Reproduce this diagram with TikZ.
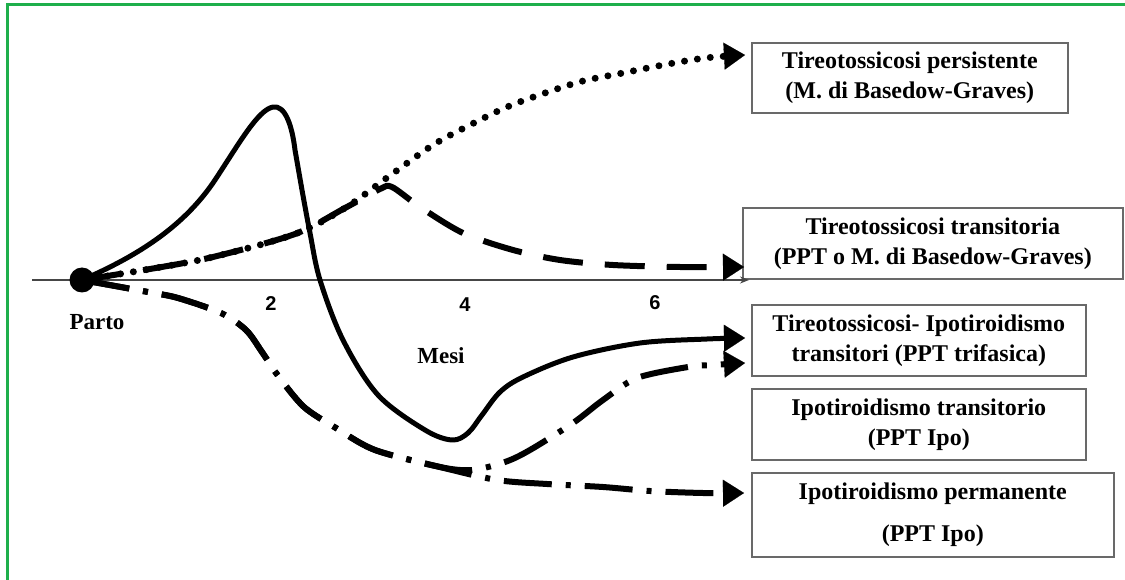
\documentclass[tikz,border=0pt]{standalone}
\usepackage{fontspec}
\setmainfont{Liberation Serif}
\newfontfamily\tickfont{Liberation Sans}
\usetikzlibrary{arrows.meta}
\definecolor{framegreen}{RGB}{30,175,75}
\definecolor{boxline}{RGB}{105,105,105}
\definecolor{axisgray}{RGB}{70,70,70}
\begin{document}
\begin{tikzpicture}[x=1pt,y=-1pt,
  box/.style={draw=boxline, line width=1.6pt, anchor=north west, align=center,
    font=\fontsize{24}{30}\selectfont\bfseries, inner sep=0pt},
  lbl/.style={font=\fontsize{23}{26}\selectfont\bfseries, inner sep=0pt},
  tick/.style={font=\tickfont\fontsize{20}{22}\selectfont\bfseries, inner sep=0pt},
  tip/.style={-{Triangle[length=21pt,width=27pt,line width=0.1pt]}},
  solidcurve/.style={tip, line width=5pt, line cap=round, line join=round},
  dotcurve/.style={tip, line width=7pt, line cap=round, dash pattern=on 0pt off 13pt},
  dashcurve/.style={tip, line width=6pt, dash pattern=on 40pt off 22pt},
  dashdotcurve/.style={tip, line width=6pt, dash pattern=on 48pt off 14pt on 5pt off 14pt},
  axisline/.style={draw=axisgray, line width=1.5pt, -{Stealth[length=9pt,width=7pt]}}
]
\useasboundingbox (0,0) rectangle (1125,580);
\fill[white] (0,0) rectangle (1125,580);
\draw[framegreen, line width=3pt] (7,580) -- (7,5) -- (1125,5);

% boxes
\node[box, minimum width=316pt, minimum height=70pt] (b1) at (751,42)
  {Tireotossicosi persistente\\(M. di Basedow-Graves)};
\node[box, minimum width=380pt, minimum height=71pt] (b2) at (742,207)
  {Tireotossicosi transitoria\\(PPT o M. di Basedow-Graves)};
\node[box, minimum width=334pt, minimum height=71pt] (b3) at (751,304)
  {Tireotossicosi- Ipotiroidismo\\transitori (PPT trifasica)};
\node[box, minimum width=334pt, minimum height=71pt] (b4) at (751,388)
  {Ipotiroidismo transitorio\\(PPT Ipo)};
\node[box, minimum width=362pt, minimum height=84pt] (b5) at (751,472)
  {Ipotiroidismo permanente\\[12pt](PPT Ipo)};

% coordinates
\coordinate (p) at (82,280);
\coordinate (ax0) at (32,280);
\coordinate (ax1) at (749,280);
\coordinate (e1) at (745,55);
\coordinate (e2) at (744,267);
\coordinate (e3) at (745,338);
\coordinate (e4) at (745,363);
\coordinate (e5) at (744,493);

% axis
\draw[axisline] (ax0) -- (ax1);

% labels
\node[tick] (t2) at (271,304) {2};
\node[tick] (t4) at (465,305) {4};
\node[tick] (t6) at (655,303) {6};
\node[lbl] (parto) at (97,322) {Parto};
\node[lbl] (mesi) at (441,356) {Mesi};

% curves
\draw[dotcurve] plot[smooth, tension=0.55] coordinates {(p) (150,269) (213,257) (295,234) (345,208) (388,177) (433,145) (470,125) (507,107) (545,93) (583,81) (623,73) (663,65) (705,58) (e1)};
\draw[dashcurve] plot[smooth, tension=0.5] coordinates {(p) (150,269) (213,257) (295,234) (345,208) (380,189) (392,187) (420,207) (463,233) (513,250) (560,260) (613,265) (680,267) (e2)};
\draw[solidcurve] (p) .. controls (140,255) and (185,225) .. (215,180)
  .. controls (240,142) and (258,110) .. (273,107)
  .. controls (285,105) and (292,125) .. (295,150)
  -- plot[smooth, tension=0.55] coordinates {(302,190) (310,233) (320,280) (343,340) (378,395) (425,430) (452,440) (468,433) (482,415) (500,392) (523,377) (573,357) (640,343) (707,339) (e3)};
\draw[dashdotcurve] plot[smooth, tension=0.5] coordinates {(p) (148,292) (178,298) (221,313) (246,330) (262,352) (279,377) (304,407) (336,428) (375,450) (440,467) (497,480) (547,484) (603,487) (650,491) (703,493) (e5)};
\draw[dashdotcurve] plot[smooth, tension=0.5] coordinates {(p) (148,292) (178,298) (221,313) (246,330) (262,352) (279,377) (304,407) (336,428) (375,450) (440,467) (472,470) (505,462) (530,450) (573,423) (603,400) (637,378) (688,367) (712,365) (e4)};

% Parto dot
\node[circle, fill=black, minimum size=25pt, inner sep=0pt] (dot) at (p) {};
\end{tikzpicture}
\end{document}
